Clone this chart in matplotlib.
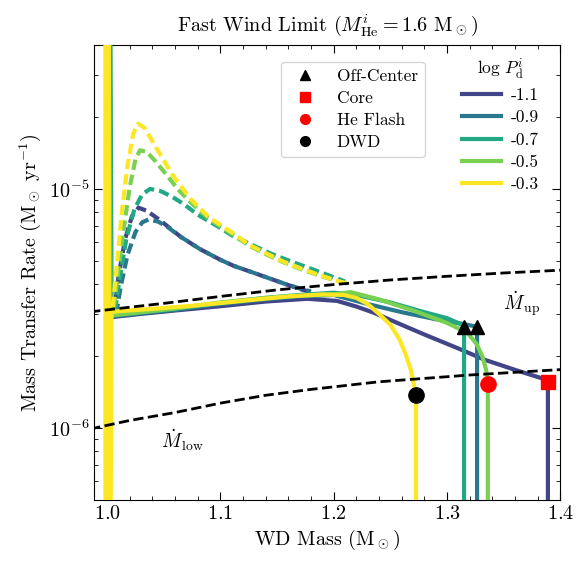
import numpy as np
import matplotlib
matplotlib.use('Agg')
import matplotlib.pyplot as plt
from matplotlib.ticker import NullFormatter, MultipleLocator
from matplotlib.lines import Line2D

plt.rcParams['font.family'] = 'serif'
plt.rcParams['font.serif'] = ['cmr10', 'DejaVu Serif']
plt.rcParams['mathtext.fontset'] = 'cm'
plt.rcParams['axes.formatter.use_mathtext'] = True
plt.rcParams['axes.unicode_minus'] = False

# initial donor periods (log P_d^i)
log_p = ['-1.1', '-0.9', '-0.7', '-0.5', '-0.3']
colors = [plt.cm.viridis(v) for v in [0.2, 0.4, 0.6, 0.8, 1.0]]

# donor mass transfer rate (dashed)
dash_x = {
    '-1.1': [1.006, 1.010, 1.016, 1.022, 1.0277, 1.035, 1.045, 1.053, 1.065, 1.082, 1.10, 1.112, 1.128, 1.141, 1.156, 1.171, 1.18],
    '-0.9': [1.008, 1.012, 1.018, 1.025, 1.031, 1.0366, 1.045, 1.053, 1.065, 1.082, 1.10, 1.112, 1.128, 1.141, 1.156, 1.171, 1.18],
    '-0.7': [1.007, 1.011, 1.017, 1.024, 1.031, 1.038, 1.047, 1.057, 1.0675, 1.08, 1.097, 1.11, 1.1265, 1.145, 1.165, 1.19, 1.21],
    '-0.5': [1.006, 1.010, 1.015, 1.020, 1.025, 1.029, 1.035, 1.043, 1.0528, 1.063, 1.0735, 1.09, 1.1118, 1.125, 1.1413, 1.155, 1.1708, 1.19, 1.205, 1.215],
    '-0.3': [1.005, 1.009, 1.013, 1.018, 1.023, 1.0274, 1.033, 1.044, 1.058, 1.0735, 1.09, 1.1118, 1.125, 1.1413, 1.155, 1.1708, 1.19, 1.205, 1.215],
}
dash_y = {
    '-1.1': [3.0e-6, 4.3e-6, 6.2e-6, 7.7e-6, 8.35e-6, 8.1e-6, 7.5e-6, 7.0e-6, 6.3e-6, 5.6e-6, 5.05e-6, 4.76e-6, 4.48e-6, 4.26e-6, 4.02e-6, 3.8e-6, 3.7e-6],
    '-0.9': [3.0e-6, 3.9e-6, 5.3e-6, 6.6e-6, 7.25e-6, 7.45e-6, 7.3e-6, 6.95e-6, 6.3e-6, 5.6e-6, 5.05e-6, 4.76e-6, 4.48e-6, 4.26e-6, 4.02e-6, 3.82e-6, 3.72e-6],
    '-0.7': [3.1e-6, 4.2e-6, 6.2e-6, 8.2e-6, 9.5e-6, 1.0e-5, 9.8e-6, 9.3e-6, 8.65e-6, 7.8e-6, 7.0e-6, 6.4e-6, 5.87e-6, 5.35e-6, 4.92e-6, 4.45e-6, 4.1e-6],
    '-0.5': [3.2e-6, 4.6e-6, 7.0e-6, 1.02e-5, 1.33e-5, 1.45e-5, 1.43e-5, 1.3e-5, 1.14e-5, 9.9e-6, 8.8e-6, 7.5e-6, 6.4e-6, 5.8e-6, 5.3e-6, 4.95e-6, 4.62e-6, 4.3e-6, 4.1e-6, 3.98e-6],
    '-0.3': [3.2e-6, 5.0e-6, 8.0e-6, 1.25e-5, 1.7e-5, 1.875e-5, 1.8e-5, 1.47e-5, 1.14e-5, 9.1e-6, 7.6e-6, 6.5e-6, 5.85e-6, 5.35e-6, 4.98e-6, 4.65e-6, 4.32e-6, 4.1e-6, 3.98e-6],
}

# WD accretion rate (solid)
solid_x = {
    '-1.1': [1.0, 1.0, 1.003, 1.01, 1.03, 1.06, 1.1027, 1.14, 1.1767, 1.203, 1.22, 1.2357, 1.26, 1.28, 1.31, 1.333, 1.36, 1.386, 1.389, 1.389],
    '-0.9': [1.0, 1.0, 1.003, 1.01, 1.03, 1.06, 1.10, 1.14, 1.17, 1.2, 1.23, 1.26, 1.29, 1.315, 1.3265, 1.3265],
    '-0.7': [1.0018, 1.0018, 1.004, 1.01, 1.03, 1.06, 1.10, 1.14, 1.17, 1.2, 1.22, 1.25, 1.28, 1.30, 1.315, 1.315],
    '-0.5': [1.0, 1.0, 1.003, 1.01, 1.03, 1.06, 1.10, 1.14, 1.17, 1.2, 1.215, 1.24, 1.27, 1.30, 1.318, 1.326, 1.331, 1.3345, 1.336, 1.336],
    '-0.3': [0.9985, 0.9985, 1.0015, 1.0015, 1.004, 1.01, 1.04, 1.0735, 1.1, 1.1327, 1.16, 1.191, 1.209, 1.22, 1.23, 1.24, 1.25, 1.258, 1.264, 1.268, 1.271, 1.2726, 1.2726],
}
solid_y = {
    '-1.1': [1e-8, 1e-3, 2.9e-6, 2.93e-6, 3.0e-6, 3.1e-6, 3.24e-6, 3.38e-6, 3.47e-6, 3.4e-6, 3.22e-6, 3.03e-6, 2.7e-6, 2.46e-6, 2.15e-6, 1.93e-6, 1.75e-6, 1.6e-6, 1.56e-6, 1e-8],
    '-0.9': [1e-8, 1e-3, 2.92e-6, 2.95e-6, 3.02e-6, 3.12e-6, 3.3e-6, 3.45e-6, 3.55e-6, 3.6e-6, 3.3e-6, 3.05e-6, 2.85e-6, 2.72e-6, 2.65e-6, 1e-8],
    '-0.7': [1e-8, 1e-3, 2.95e-6, 2.97e-6, 3.04e-6, 3.15e-6, 3.33e-6, 3.5e-6, 3.6e-6, 3.68e-6, 3.6e-6, 3.35e-6, 3.05e-6, 2.88e-6, 2.68e-6, 1e-8],
    '-0.5': [1e-8, 1e-3, 2.95e-6, 2.98e-6, 3.05e-6, 3.16e-6, 3.35e-6, 3.5e-6, 3.58e-6, 3.62e-6, 3.7e-6, 3.45e-6, 3.1e-6, 2.75e-6, 2.5e-6, 2.25e-6, 2.0e-6, 1.75e-6, 1.52e-6, 1e-8],
    '-0.3': [1e-8, 1e-3, 1e-3, 1e-8, 3.05e-6, 3.08e-6, 3.15e-6, 3.24e-6, 3.33e-6, 3.45e-6, 3.55e-6, 3.62e-6, 3.6e-6, 3.5e-6, 3.3e-6, 3.0e-6, 2.7e-6, 2.35e-6, 2.0e-6, 1.75e-6, 1.5e-6, 1.38e-6, 1e-8],
}

# stability boundaries
mdot_up_x = [0.985, 1.02, 1.05, 1.10, 1.15, 1.20, 1.25, 1.30, 1.35, 1.40]
mdot_up = [3.06e-6, 3.2e-6, 3.32e-6, 3.55e-6, 3.78e-6, 3.98e-6, 4.16e-6, 4.31e-6, 4.45e-6, 4.57e-6]
mdot_low_x = [0.985, 1.02, 1.06, 1.10, 1.14, 1.18, 1.24, 1.32, 1.40]
mdot_low = [0.99e-6, 1.075e-6, 1.16e-6, 1.27e-6, 1.37e-6, 1.45e-6, 1.56e-6, 1.665e-6, 1.754e-6]

# final outcomes
end_mass = {'Off-Center': [1.315, 1.3265], 'Core': [1.389], 'He Flash': [1.336], 'DWD': [1.2726]}
end_rate = {'Off-Center': [2.65e-6, 2.65e-6], 'Core': [1.56e-6], 'He Flash': [1.52e-6], 'DWD': [1.38e-6]}
end_style = {'Off-Center': ('^', 'k', 10), 'Core': ('s', 'r', 10.5), 'He Flash': ('o', 'r', 11), 'DWD': ('o', 'k', 11)}

fig = plt.figure(figsize=(5.88, 5.70), dpi=100)
ax = fig.add_axes([0.160, 0.123, 0.793, 0.798])

for p, c in zip(log_p, colors):
    ax.plot(solid_x[p], solid_y[p], color=c, lw=3, solid_capstyle='butt', zorder=3)
    ax.plot(dash_x[p], dash_y[p], color=c, lw=3, dashes=(2.5, 1.2), zorder=3)

ax.plot(mdot_up_x, mdot_up, 'k--', lw=2, zorder=4)
ax.plot(mdot_low_x, mdot_low, 'k--', lw=2, zorder=4)

for k in end_mass:
    m, col, ms = end_style[k]
    ax.plot(end_mass[k], end_rate[k], ls='none', marker=m, color=col, ms=ms, zorder=5)

ax.text(1.3655, 3.3e-6, r'$\dot M_{\rm up}$', fontsize=14, ha='center', va='center')
ax.text(1.066, 8.9e-7, r'$\dot M_{\rm low}$', fontsize=14, ha='center', va='center')

ax.set_yscale('log')
ax.set_xlim(0.9885, 1.4)
ax.set_ylim(5e-7, 4e-5)
ax.xaxis.set_major_locator(MultipleLocator(0.1))
ax.xaxis.set_minor_locator(MultipleLocator(0.02))
ax.yaxis.set_minor_formatter(NullFormatter())
ax.tick_params(which='both', direction='in', top=True, right=True, labelsize=14.5)
ax.tick_params(which='major', length=6)
ax.tick_params(which='minor', length=3)

ax.set_xlabel(r'WD Mass (M$_\odot$)', fontsize=14.5)
ax.set_ylabel(r'Mass Transfer Rate (M$_\odot$ yr$^{-1}$)', fontsize=14.5)
ax.set_title(r'Fast Wind Limit ($M_{\rm He}^i = 1.6$ M$_\odot$)', fontsize=14.5, pad=10)

h1 = [Line2D([], [], ls='none', marker=end_style[k][0], color=end_style[k][1], ms=7) for k in end_mass]
leg1 = ax.legend(h1, list(end_mass.keys()), loc='upper left', bbox_to_anchor=(0.401, 0.963),
                 borderaxespad=0, fontsize=12.5, handletextpad=0.8, labelspacing=0.39)
ax.add_artist(leg1)
h2 = [Line2D([], [], color=c, lw=3) for c in colors]
ax.legend(h2, log_p, loc='upper left', bbox_to_anchor=(0.775, 0.991), frameon=False,
          borderaxespad=0, title=r'$\log\,P_{\rm d}^i$', title_fontsize=12.5, fontsize=12.5,
          handlelength=2.2, handletextpad=0.57, labelspacing=0.4)

fig.savefig('out.png', dpi=100)
